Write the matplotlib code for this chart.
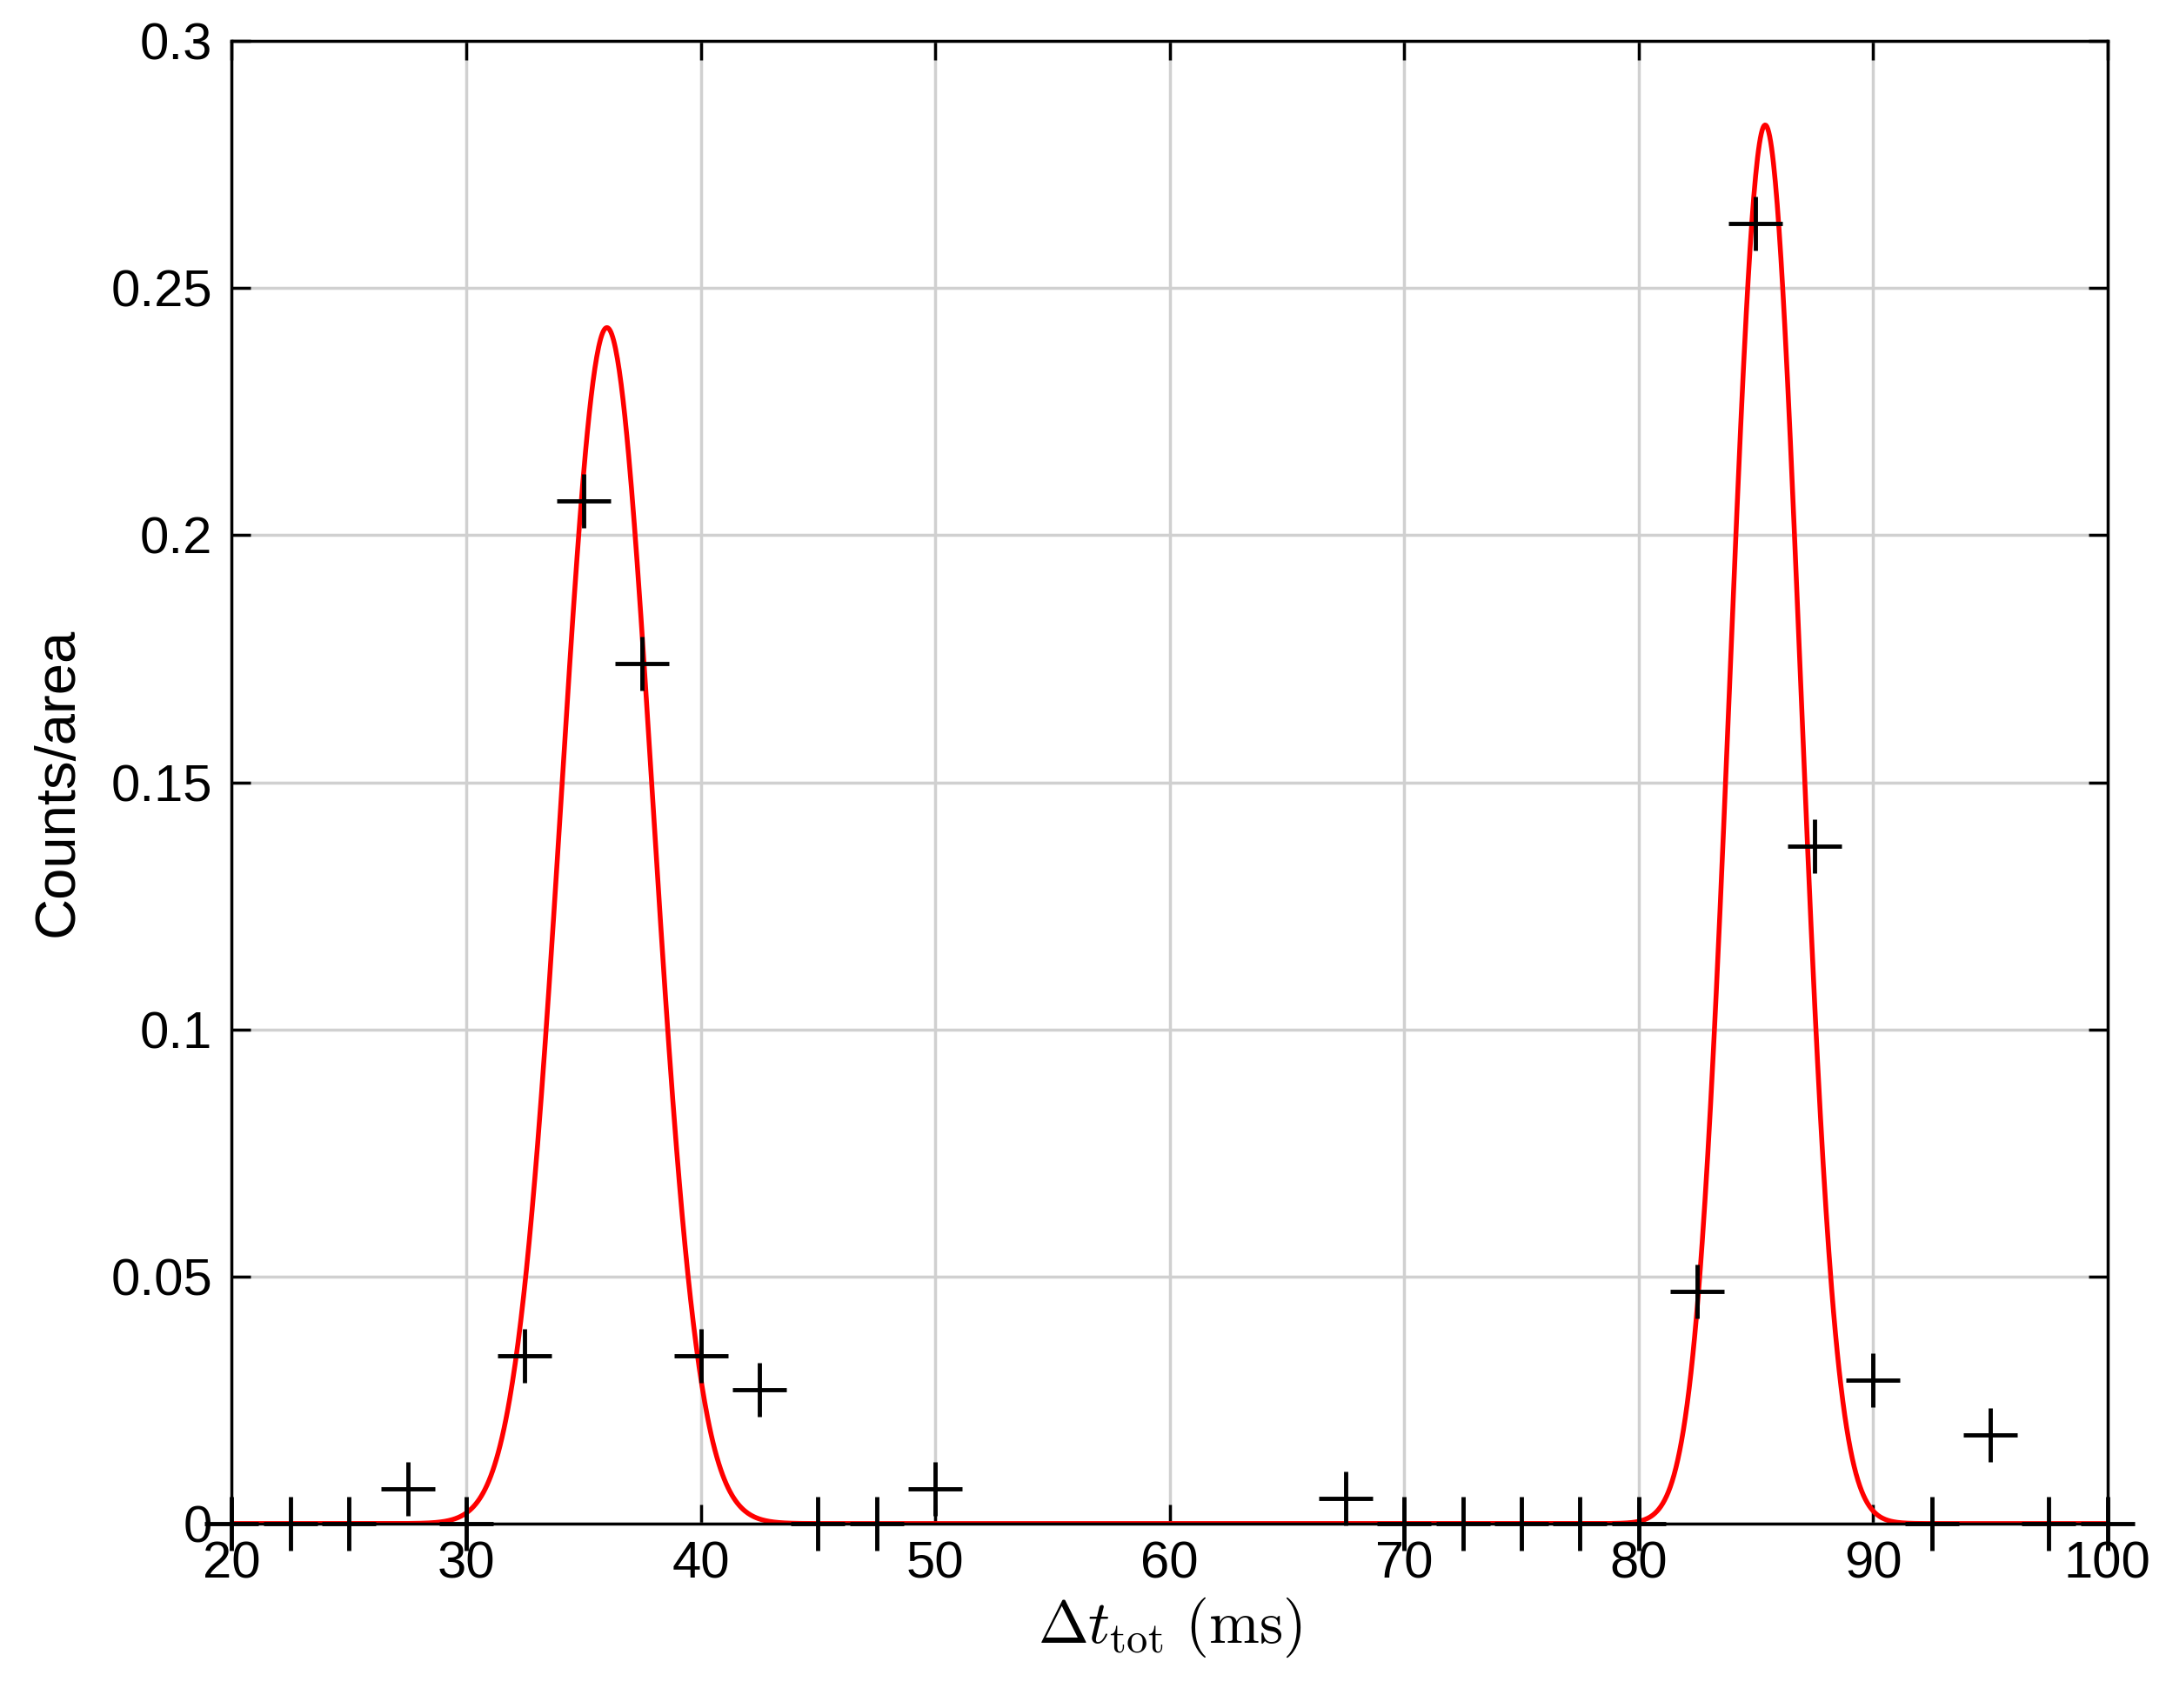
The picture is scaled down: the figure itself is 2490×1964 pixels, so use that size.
import numpy as np
import matplotlib
matplotlib.use("Agg")
import matplotlib.pyplot as plt

x_data = [20, 22.5, 25, 27.5, 30, 32.5, 35, 37.5, 40, 42.5, 45, 47.5, 50,
          67.5, 70, 72.5, 75, 77.5, 80, 82.5, 85, 87.5, 90, 92.5, 95, 97.5, 100]
y_data = [0, 0, 0, 0.007, 0, 0.034, 0.207, 0.174, 0.034, 0.027, 0, 0, 0.007,
          0.005, 0, 0, 0, 0, 0, 0.047, 0.263, 0.137, 0.029, 0, 0.018, 0, 0]
# Gaussian fit parameters: (amplitude, centre, sigma)
fit_params = [(0.242, 36.0, 1.95), (0.283, 85.4, 1.5)]

plt.rcParams['mathtext.fontset'] = 'cm'
fig = plt.figure(figsize=(24.9, 19.64), dpi=100)
ax = fig.add_axes([0.107, 0.108, 0.866, 0.868])

xs = np.linspace(20, 100, 2000)
ys = sum(a*np.exp(-(xs-m)**2/(2*s**2)) for a, m, s in fit_params)
ax.plot(xs, ys, color='#ff0000', lw=4, zorder=2)
ax.plot(x_data, y_data, '+', color='black', ms=44, mew=3.5, zorder=3, clip_on=False)

ax.set_xlim(20, 100)
ax.set_ylim(0, 0.3)
ax.set_xticks(range(20, 101, 10))
ax.set_yticks([0, 0.05, 0.1, 0.15, 0.2, 0.25, 0.3])
ax.set_yticklabels(['0', '0.05', '0.1', '0.15', '0.2', '0.25', '0.3'])
ax.grid(True, color='#d0d0d0', lw=2.5)
ax.set_axisbelow(True)
ax.tick_params(direction='in', top=True, right=True, length=16, width=2.5,
               labelsize=43)
ax.tick_params(axis='x', pad=14)
ax.tick_params(axis='y', pad=16)
for lab in ax.get_xticklabels() + ax.get_yticklabels():
    lab.set_family('Liberation Sans')
for sp in ax.spines.values():
    sp.set_linewidth(2.5)
ax.set_ylabel('Counts/area', fontsize=47, family='Liberation Sans', labelpad=22)
ax.set_xlabel(r'$\Delta t_{\mathrm{tot}}\ (\mathrm{ms})$', fontsize=50, labelpad=6)

fig.savefig('out.png', dpi=100, facecolor='white')
